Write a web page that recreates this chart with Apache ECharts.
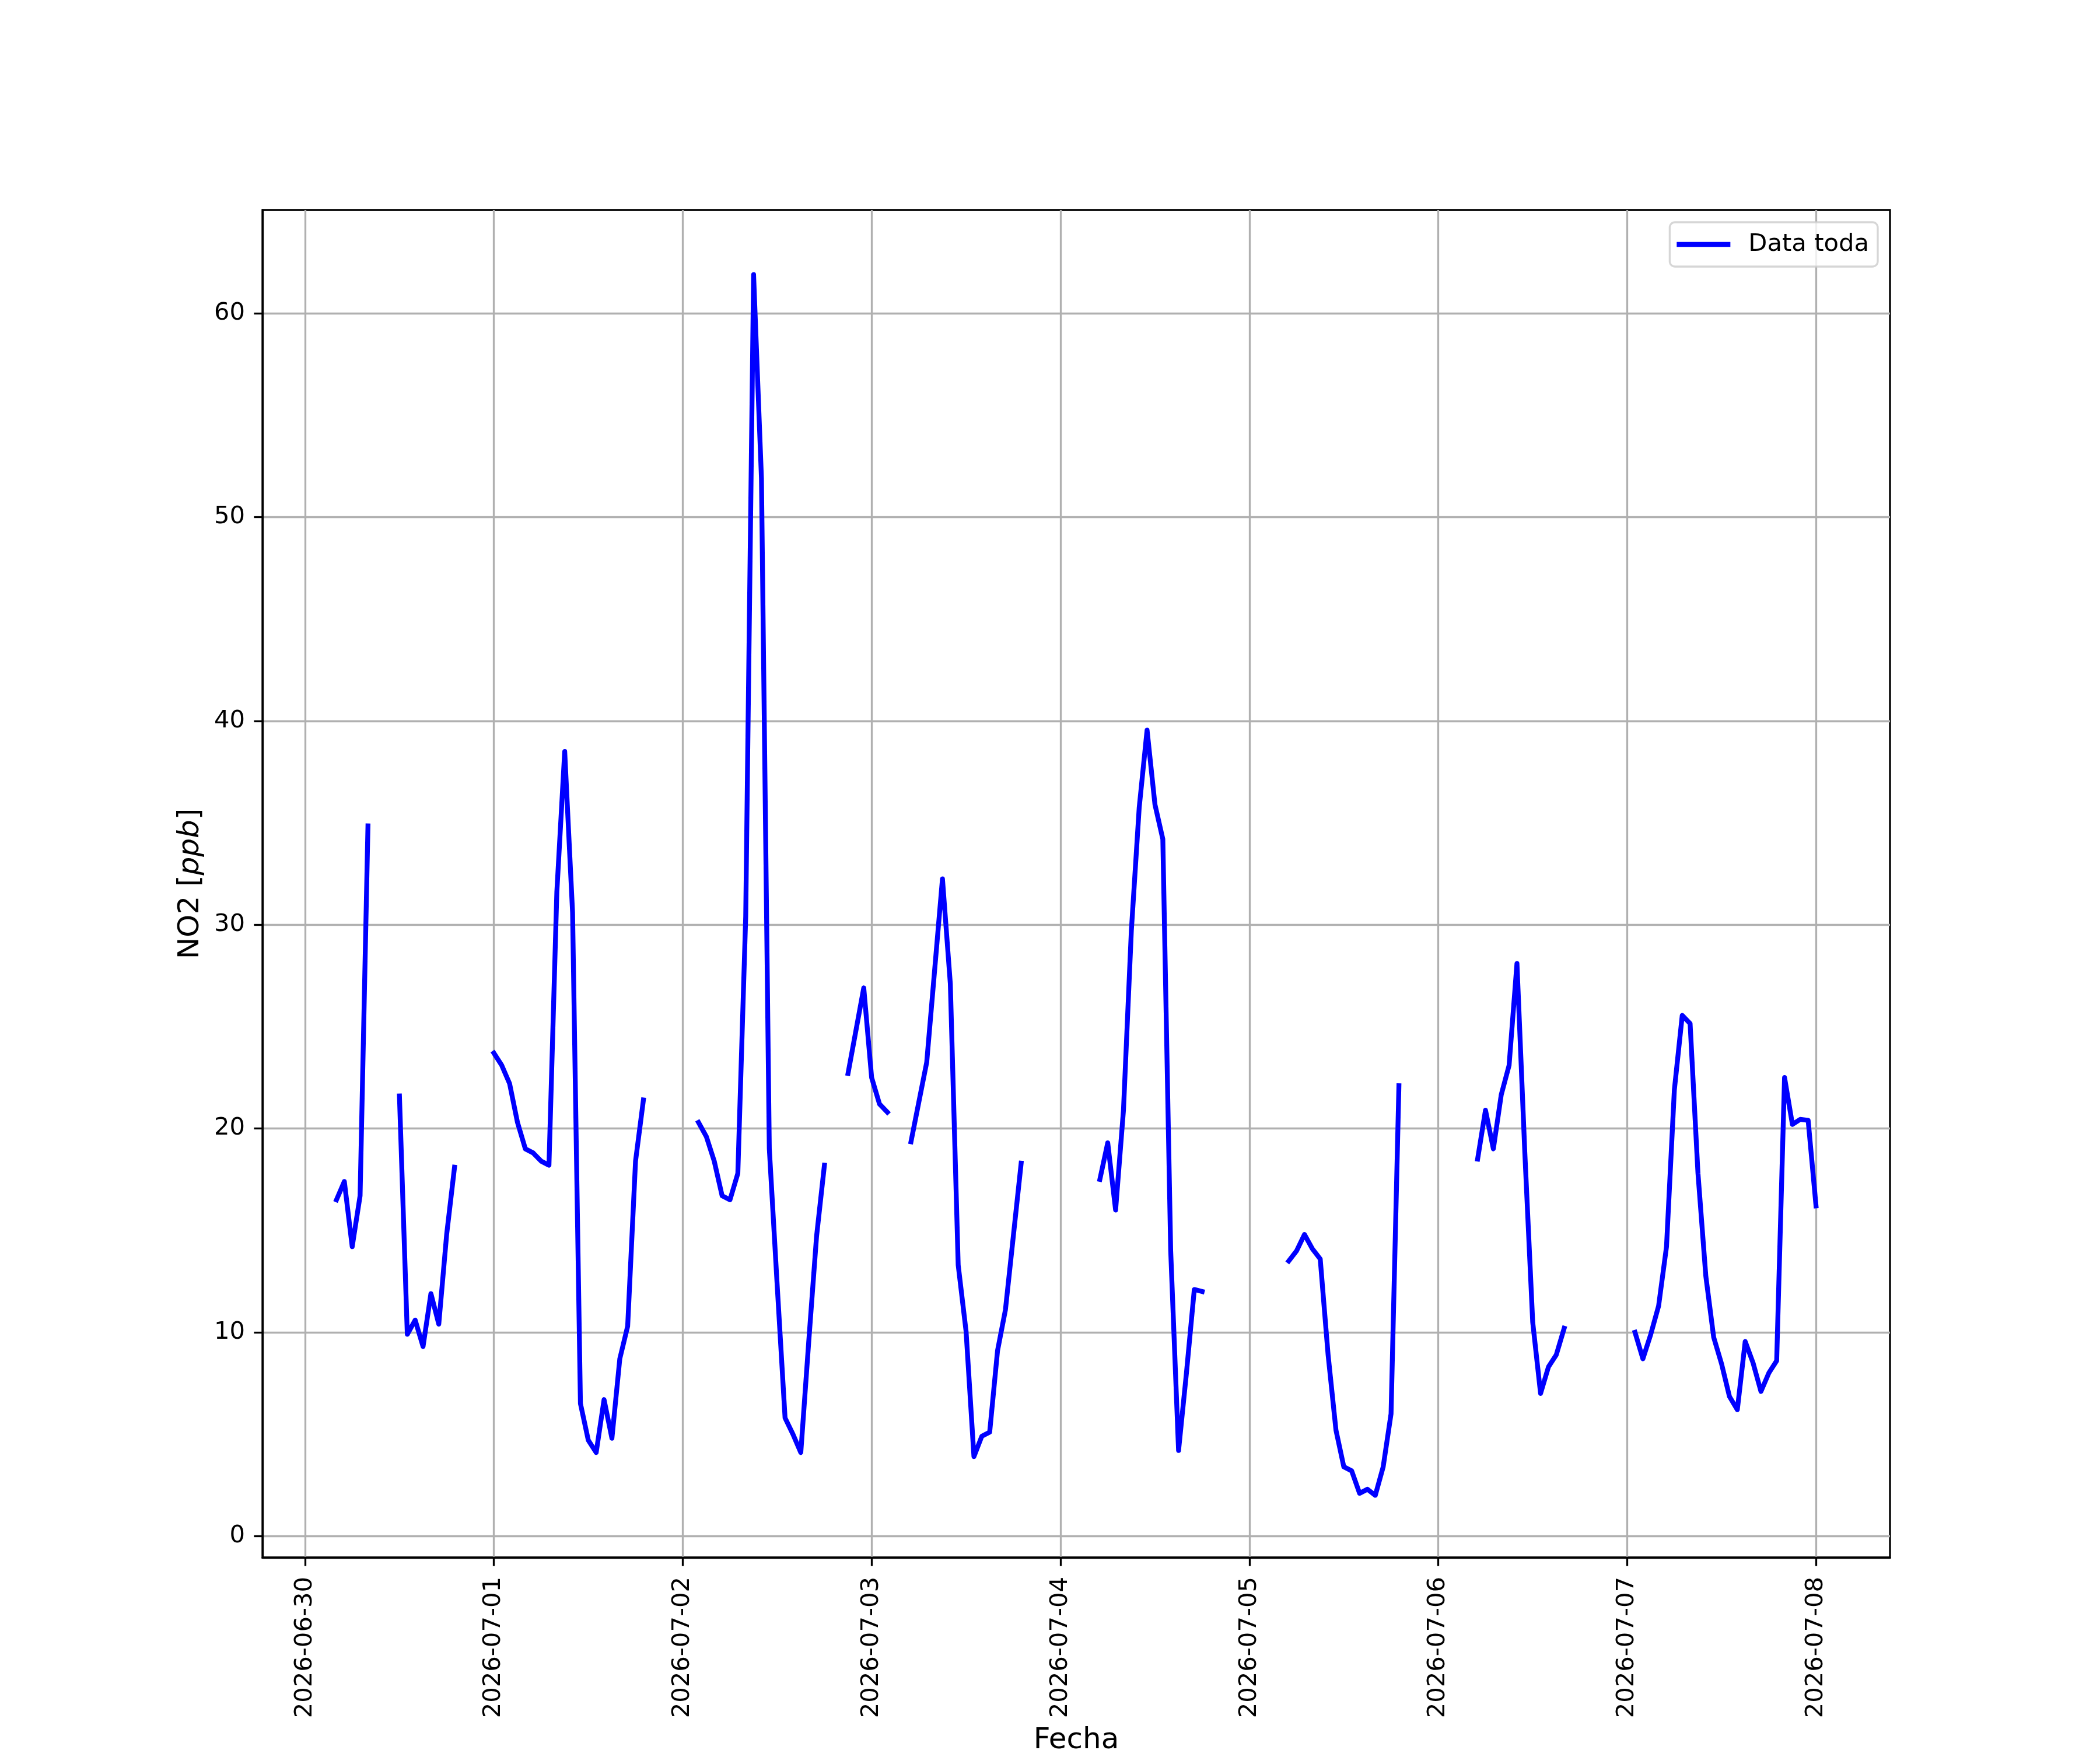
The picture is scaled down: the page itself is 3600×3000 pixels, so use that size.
<!DOCTYPE html>
<html>
<head>
<meta charset="utf-8">
<script src="https://cdn.jsdelivr.net/npm/echarts@6/dist/echarts.min.js"></script>
<style>
html,body{margin:0;padding:0;background:#fff;}
#c{width:3600px;height:3000px;}
</style>
</head>
<body>
<div id="c"></div>
<script>
// Tick labels (one per day, at 00:00)
const dayLabels = ['2026-06-30','2026-07-01','2026-07-02','2026-07-03','2026-07-04','2026-07-05','2026-07-06','2026-07-07','2026-07-08'];
const yTicks = [0, 10, 20, 30, 40, 50, 60];

// Hourly NO2 values [ppb], hour 0..23 of each day (null = no data)
const no2_0630 = [null,null,null,null,16.5,17.4,14.2,16.7,34.85,null,null,null,21.6,9.9,10.6,9.3,11.9,10.4,14.8,18.1,null,null,null,null];
const no2_0701 = [23.7,23.1,22.2,20.3,19.0,18.8,18.4,18.2,31.6,38.5,30.6,6.5,4.7,4.1,6.7,4.8,8.7,10.3,18.4,21.4,null,null,null,null];
const no2_0702 = [null,null,20.3,19.6,18.4,16.7,16.5,17.8,30.4,61.9,51.9,19.0,12.3,5.8,5.0,4.1,9.5,14.7,18.2,null,null,22.7,24.8,26.9];
const no2_0703 = [22.5,21.2,20.8,null,null,19.35,21.3,23.25,27.75,32.25,27.1,13.3,10.05,3.9,4.9,5.1,9.1,11.1,14.7,18.3,null,null,null,null];
const no2_0704 = [null,null,null,null,null,17.5,19.3,16.0,20.9,29.7,35.75,39.55,35.9,34.2,14.0,4.2,8.0,12.1,12.0,null,null,null,null,null];
const no2_0705 = [null,null,null,null,null,13.5,14.0,14.8,14.1,13.6,8.9,5.2,3.4,3.2,2.1,2.3,2.0,3.4,6.0,22.1,null,null,null,null];
const no2_0706 = [null,null,null,null,null,18.5,20.9,19.0,21.65,23.1,28.1,18.8,10.5,7.0,8.3,8.9,10.2,null,null,null,null,null,null,null];
const no2_0707 = [null,10.0,8.7,9.9,11.3,14.2,21.9,25.55,25.15,17.8,12.75,9.75,8.45,6.85,6.2,9.55,8.5,7.1,8.0,8.6,22.5,20.2,20.45,20.4];
const no2_0708 = [16.2];

const days = [no2_0630,no2_0701,no2_0702,no2_0703,no2_0704,no2_0705,no2_0706,no2_0707,no2_0708];
const seriesData = [];
days.forEach((arr, d) => arr.forEach((v, h) => seriesData.push([d * 24 + h, v])));
const xTicks = dayLabels.map((_, i) => i * 24);

const FONT = 'DejaVu Sans';
const chart = echarts.init(document.getElementById('c'), null, {renderer: 'canvas', width: 3600, height: 3000});
chart.setOption({
  animation: false,
  backgroundColor: '#ffffff',
  grid: {
    left: 450, right: 360, top: 360, bottom: 330,
    show: true, borderColor: '#000', borderWidth: 3.3, backgroundColor: 'transparent',
    containLabel: false, outerBoundsMode: 'none'
  },
  legend: {
    data: ['Data toda'],
    right: 381, top: 381,
    icon: 'rect', itemWidth: 92, itemHeight: 8.3,
    padding: [14, 15, 14, 12],
    backgroundColor: 'rgba(255,255,255,0.8)',
    borderColor: 'rgba(204,204,204,0.8)', borderWidth: 3.3, borderRadius: 9,
    textStyle: {fontFamily: FONT, fontSize: 41.7, color: '#000', padding: [0, 0, 0, 26], lineHeight: 48}
  },
  xAxis: {
    type: 'value', min: -5.4, max: 201.4,
    name: 'Fecha', nameLocation: 'middle', nameGap: 289,
    nameTextStyle: {fontFamily: FONT, fontSize: 50, color: '#000'},
    axisLine: {show: true, onZero: false, lineStyle: {color: '#000', width: 3.3}},
    axisTick: {show: true, length: 14.6, lineStyle: {color: '#000', width: 3.3}, customValues: xTicks},
    axisLabel: {show: true, rotate: 90, margin: 33, fontFamily: FONT, fontSize: 41.7, color: '#000',
      customValues: xTicks, formatter: v => dayLabels[Math.round(v / 24)]},
    splitLine: {show: true, lineStyle: {color: '#b0b0b0', width: 3.3}}
  },
  yAxis: {
    type: 'value', min: -1.05, max: 65.07,
    name: 'NO2 [{i|ppb}]', nameLocation: 'middle', nameGap: 98, nameRotate: 90,
    nameTextStyle: {fontFamily: FONT, fontSize: 50, color: '#000',
      rich: {i: {fontFamily: FONT, fontSize: 50, fontStyle: 'italic', color: '#000'}}},
    axisLine: {show: true, onZero: false, lineStyle: {color: '#000', width: 3.3}},
    axisTick: {show: true, length: 14.6, lineStyle: {color: '#000', width: 3.3}, customValues: yTicks},
    axisLabel: {show: true, margin: 30, fontFamily: FONT, fontSize: 41.7, color: '#000', customValues: yTicks},
    splitLine: {show: true, lineStyle: {color: '#b0b0b0', width: 3.3}}
  },
  series: [{
    name: 'Data toda', type: 'line', data: seriesData,
    symbol: 'none', showSymbol: false, connectNulls: false,
    itemStyle: {color: '#0000ff'},
    lineStyle: {color: '#0000ff', width: 8.3, cap: 'square', join: 'round'},
    z: 3
  }]
});
</script>
</body>
</html>
